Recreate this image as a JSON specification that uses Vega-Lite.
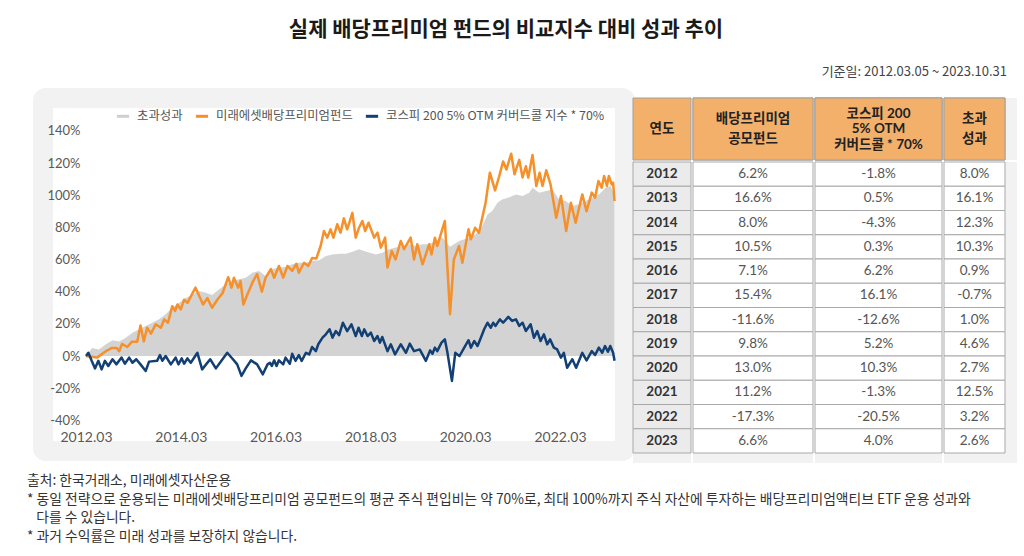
{
  "$schema": "https://vega.github.io/schema/vega-lite/v6.json",
  "background": "white",
  "padding": {"left": 27, "top": 19, "right": 0, "bottom": 0},
  "config": {
    "font": "Lato, Noto Sans CJK KR, sans-serif",
    "locale": {"number": {"decimal": ".", "thousands": ",", "grouping": [3], "currency": ["", ""], "minus": "-"}},
    "concat": {"spacing": 0},
    "view": {"stroke": null},
    "axis": {"labelFont": "Lato", "labelColor": "#595959", "domain": false, "ticks": false, "grid": false, "title": null}
  },
  "datasets": {
    "fund": [
      {"t":2012.17,"v":0},{"t":2012.40,"v":-1},{"t":2012.59,"v":3},{"t":2012.72,"v":5},{"t":2012.82,"v":5},{"t":2012.87,"v":3},{"t":2012.93,"v":7.5},{"t":2013.04,"v":5.6},{"t":2013.14,"v":8.9},{"t":2013.25,"v":8.9},{"t":2013.32,"v":19},{"t":2013.39,"v":9},{"t":2013.46,"v":17.6},{"t":2013.54,"v":13.9},{"t":2013.64,"v":19.7},{"t":2013.75,"v":17.6},{"t":2013.82,"v":22.8},{"t":2013.90,"v":20.7},{"t":2013.99,"v":31},{"t":2014.05,"v":28},{"t":2014.10,"v":32},{"t":2014.17,"v":29},{"t":2014.24,"v":35},{"t":2014.31,"v":33},{"t":2014.48,"v":42.5},{"t":2014.55,"v":38},{"t":2014.64,"v":32},{"t":2014.73,"v":36},{"t":2014.83,"v":30},{"t":2014.94,"v":35},{"t":2015.05,"v":39},{"t":2015.17,"v":49},{"t":2015.24,"v":42.5},{"t":2015.29,"v":48.7},{"t":2015.38,"v":42.5},{"t":2015.43,"v":46.6},{"t":2015.49,"v":32},{"t":2015.57,"v":38},{"t":2015.68,"v":45.6},{"t":2015.78,"v":51},{"t":2015.88,"v":40},{"t":2015.96,"v":48.7},{"t":2016.07,"v":54},{"t":2016.14,"v":48.7},{"t":2016.24,"v":56},{"t":2016.33,"v":48.7},{"t":2016.42,"v":56},{"t":2016.52,"v":53},{"t":2016.61,"v":57.4},{"t":2016.66,"v":51.8},{"t":2016.77,"v":58},{"t":2016.86,"v":56},{"t":2016.94,"v":61},{"t":2017.03,"v":60.7},{"t":2017.12,"v":68.4},{"t":2017.19,"v":77.7},{"t":2017.26,"v":73.6},{"t":2017.33,"v":78.8},{"t":2017.39,"v":73.6},{"t":2017.47,"v":81.9},{"t":2017.54,"v":76.7},{"t":2017.61,"v":85.6},{"t":2017.68,"v":78.8},{"t":2017.79,"v":89},{"t":2017.86,"v":73.6},{"t":2017.93,"v":79.8},{"t":2018.00,"v":84},{"t":2018.06,"v":77.7},{"t":2018.13,"v":82.9},{"t":2018.25,"v":73.6},{"t":2018.32,"v":76.7},{"t":2018.39,"v":67.4},{"t":2018.48,"v":73.6},{"t":2018.53,"v":55},{"t":2018.62,"v":65.3},{"t":2018.70,"v":60},{"t":2018.81,"v":71.5},{"t":2018.88,"v":66.4},{"t":2019.02,"v":73.6},{"t":2019.09,"v":60},{"t":2019.16,"v":69.5},{"t":2019.27,"v":57},{"t":2019.41,"v":69.5},{"t":2019.46,"v":63.2},{"t":2019.53,"v":73.6},{"t":2019.58,"v":68.4},{"t":2019.74,"v":84},{"t":2019.85,"v":26},{"t":2019.93,"v":60},{"t":2020.04,"v":68.4},{"t":2020.11,"v":58},{"t":2020.24,"v":78.8},{"t":2020.29,"v":72.6},{"t":2020.38,"v":79.8},{"t":2020.46,"v":76.7},{"t":2020.60,"v":95.3},{"t":2020.69,"v":114},{"t":2020.80,"v":103},{"t":2020.88,"v":111},{"t":2020.97,"v":121},{"t":2021.04,"v":116},{"t":2021.14,"v":125.8},{"t":2021.21,"v":113},{"t":2021.31,"v":122},{"t":2021.38,"v":111},{"t":2021.45,"v":118},{"t":2021.50,"v":111},{"t":2021.59,"v":125},{"t":2021.67,"v":105.7},{"t":2021.74,"v":114},{"t":2021.80,"v":105.7},{"t":2021.88,"v":115.5},{"t":2021.97,"v":106.7},{"t":2022.09,"v":86},{"t":2022.19,"v":99.5},{"t":2022.30,"v":77.7},{"t":2022.40,"v":95.3},{"t":2022.50,"v":82.9},{"t":2022.64,"v":100.5},{"t":2022.73,"v":90},{"t":2022.84,"v":101.6},{"t":2022.91,"v":98.5},{"t":2022.98,"v":108.8},{"t":2023.05,"v":104.7},{"t":2023.10,"v":112},{"t":2023.16,"v":105.7},{"t":2023.20,"v":112},{"t":2023.26,"v":106.7},{"t":2023.29,"v":107.8},{"t":2023.32,"v":96.4}
    ],
    "kospi": [
      {"t":2012.17,"v":0},{"t":2012.22,"v":2},{"t":2012.29,"v":-3},{"t":2012.36,"v":-7.7},{"t":2012.43,"v":-3},{"t":2012.50,"v":-8.3},{"t":2012.57,"v":-3},{"t":2012.64,"v":-6.2},{"t":2012.73,"v":-2},{"t":2012.81,"v":-5.2},{"t":2012.92,"v":-1},{"t":2012.99,"v":-4.8},{"t":2013.08,"v":-1},{"t":2013.15,"v":-4.2},{"t":2013.23,"v":-2},{"t":2013.32,"v":-5.2},{"t":2013.43,"v":-9.3},{"t":2013.50,"v":-3.5},{"t":2013.67,"v":-3},{"t":2013.73,"v":0.6},{"t":2013.78,"v":-3},{"t":2013.85,"v":0},{"t":2013.96,"v":-5.2},{"t":2014.06,"v":-1},{"t":2014.12,"v":-5.2},{"t":2014.19,"v":-1.5},{"t":2014.24,"v":-4.8},{"t":2014.31,"v":-1.5},{"t":2014.38,"v":-4.2},{"t":2014.52,"v":2},{"t":2014.62,"v":-8.3},{"t":2014.79,"v":-2},{"t":2014.91,"v":-7.7},{"t":2015.05,"v":-2},{"t":2015.15,"v":2},{"t":2015.27,"v":-2},{"t":2015.36,"v":-5.2},{"t":2015.45,"v":-12.4},{"t":2015.54,"v":-7.7},{"t":2015.65,"v":-2.7},{"t":2015.78,"v":-5.2},{"t":2015.90,"v":-11.4},{"t":2016.00,"v":-5.2},{"t":2016.05,"v":-4.2},{"t":2016.09,"v":-6.2},{"t":2016.14,"v":-2.7},{"t":2016.19,"v":-6.2},{"t":2016.24,"v":-2.7},{"t":2016.33,"v":-5.2},{"t":2016.38,"v":-1},{"t":2016.47,"v":-4.8},{"t":2016.52,"v":1.4},{"t":2016.59,"v":-3},{"t":2016.66,"v":0.6},{"t":2016.72,"v":-3},{"t":2016.81,"v":2},{"t":2016.88,"v":1},{"t":2016.94,"v":5.6},{"t":2017.02,"v":3},{"t":2017.07,"v":7.3},{"t":2017.16,"v":11.4},{"t":2017.23,"v":13.5},{"t":2017.31,"v":16.6},{"t":2017.37,"v":11.4},{"t":2017.44,"v":15.5},{"t":2017.51,"v":13},{"t":2017.59,"v":20.7},{"t":2017.68,"v":15.5},{"t":2017.77,"v":19.7},{"t":2017.86,"v":12.4},{"t":2017.92,"v":17.6},{"t":2017.99,"v":12.4},{"t":2018.04,"v":16.6},{"t":2018.11,"v":12.4},{"t":2018.18,"v":14.5},{"t":2018.25,"v":9.3},{"t":2018.32,"v":12.4},{"t":2018.37,"v":8.3},{"t":2018.42,"v":11.8},{"t":2018.53,"v":3},{"t":2018.60,"v":7.3},{"t":2018.69,"v":1},{"t":2018.81,"v":7.3},{"t":2018.92,"v":2},{"t":2019.00,"v":7.7},{"t":2019.09,"v":3},{"t":2019.21,"v":4.1},{"t":2019.34,"v":-3},{"t":2019.43,"v":3.5},{"t":2019.48,"v":1.4},{"t":2019.53,"v":5.2},{"t":2019.58,"v":3},{"t":2019.67,"v":8.3},{"t":2019.74,"v":10.4},{"t":2019.79,"v":3},{"t":2019.89,"v":-15.5},{"t":2019.96,"v":2},{"t":2020.00,"v":1},{"t":2020.05,"v":0},{"t":2020.15,"v":5.2},{"t":2020.24,"v":9.8},{"t":2020.29,"v":5.2},{"t":2020.36,"v":9.3},{"t":2020.43,"v":6.2},{"t":2020.50,"v":11.4},{"t":2020.57,"v":16.6},{"t":2020.64,"v":20.7},{"t":2020.71,"v":17.6},{"t":2020.76,"v":20.7},{"t":2020.81,"v":18.7},{"t":2020.90,"v":22.8},{"t":2020.97,"v":20.7},{"t":2021.08,"v":24.3},{"t":2021.16,"v":21.8},{"t":2021.24,"v":22.8},{"t":2021.31,"v":18.7},{"t":2021.38,"v":20.7},{"t":2021.45,"v":15.5},{"t":2021.55,"v":19.7},{"t":2021.62,"v":11.4},{"t":2021.69,"v":15.5},{"t":2021.76,"v":9.3},{"t":2021.83,"v":13.5},{"t":2021.90,"v":7.3},{"t":2021.96,"v":10.4},{"t":2022.04,"v":5.2},{"t":2022.11,"v":4.1},{"t":2022.19,"v":-1},{"t":2022.25,"v":2},{"t":2022.32,"v":-7.3},{"t":2022.43,"v":-2},{"t":2022.51,"v":-7.3},{"t":2022.64,"v":2},{"t":2022.73,"v":-2.7},{"t":2022.84,"v":3},{"t":2022.91,"v":0.6},{"t":2022.99,"v":5.2},{"t":2023.06,"v":2},{"t":2023.12,"v":6.2},{"t":2023.18,"v":2.6},{"t":2023.23,"v":6.2},{"t":2023.29,"v":2},{"t":2023.32,"v":-3}
    ],
    "excess": [
      {"t":2012.17,"v":0},{"t":2012.30,"v":5},{"t":2012.44,"v":4},{"t":2012.59,"v":7.3},{"t":2012.73,"v":9.8},{"t":2012.87,"v":9},{"t":2013.01,"v":11.4},{"t":2013.15,"v":14.5},{"t":2013.29,"v":16.6},{"t":2013.43,"v":18.7},{"t":2013.57,"v":20.7},{"t":2013.71,"v":22.8},{"t":2013.85,"v":25.9},{"t":2013.99,"v":30},{"t":2014.13,"v":33},{"t":2014.27,"v":36},{"t":2014.41,"v":38},{"t":2014.55,"v":40.4},{"t":2014.70,"v":39.4},{"t":2014.83,"v":38},{"t":2014.98,"v":41.5},{"t":2015.12,"v":44.6},{"t":2015.26,"v":46.6},{"t":2015.40,"v":47.7},{"t":2015.54,"v":48.7},{"t":2015.68,"v":51.8},{"t":2015.82,"v":52.9},{"t":2015.96,"v":49.7},{"t":2016.10,"v":54},{"t":2016.24,"v":55},{"t":2016.38,"v":55.3},{"t":2016.52,"v":57},{"t":2016.66,"v":58},{"t":2016.81,"v":58},{"t":2016.94,"v":59.1},{"t":2017.09,"v":59.5},{"t":2017.23,"v":62.2},{"t":2017.37,"v":63.2},{"t":2017.51,"v":63.6},{"t":2017.65,"v":63.6},{"t":2017.79,"v":64.9},{"t":2017.93,"v":66.4},{"t":2018.07,"v":65},{"t":2018.28,"v":63.2},{"t":2018.42,"v":64.2},{"t":2018.56,"v":66.4},{"t":2018.70,"v":67.4},{"t":2018.84,"v":68.4},{"t":2018.98,"v":69.5},{"t":2019.13,"v":68.4},{"t":2019.27,"v":69.5},{"t":2019.41,"v":69.5},{"t":2019.55,"v":71.5},{"t":2019.69,"v":73.6},{"t":2019.85,"v":68},{"t":2020.04,"v":71.5},{"t":2020.25,"v":73.6},{"t":2020.39,"v":75.7},{"t":2020.53,"v":80.8},{"t":2020.64,"v":88},{"t":2020.74,"v":90.2},{"t":2020.85,"v":95.3},{"t":2020.95,"v":97.4},{"t":2021.09,"v":98.5},{"t":2021.24,"v":100.5},{"t":2021.38,"v":99.5},{"t":2021.52,"v":101.6},{"t":2021.59,"v":104.7},{"t":2021.73,"v":101.6},{"t":2021.87,"v":102.6},{"t":2022.01,"v":103.6},{"t":2022.15,"v":97.4},{"t":2022.29,"v":96.4},{"t":2022.43,"v":93.3},{"t":2022.57,"v":94.3},{"t":2022.71,"v":96.4},{"t":2022.85,"v":98.5},{"t":2022.99,"v":100.5},{"t":2023.13,"v":104.7},{"t":2023.24,"v":105.7},{"t":2023.32,"v":99.5}
    ],
    "table": [
      {"year":"2012","fund":0.062,"kospi":-0.018,"excess":0.080},
      {"year":"2013","fund":0.166,"kospi":0.005,"excess":0.161},
      {"year":"2014","fund":0.080,"kospi":-0.043,"excess":0.123},
      {"year":"2015","fund":0.105,"kospi":0.003,"excess":0.103},
      {"year":"2016","fund":0.071,"kospi":0.062,"excess":0.009},
      {"year":"2017","fund":0.154,"kospi":0.161,"excess":-0.007},
      {"year":"2018","fund":-0.116,"kospi":-0.126,"excess":0.010},
      {"year":"2019","fund":0.098,"kospi":0.052,"excess":0.046},
      {"year":"2020","fund":0.130,"kospi":0.103,"excess":0.027},
      {"year":"2021","fund":0.112,"kospi":-0.013,"excess":0.125},
      {"year":"2022","fund":-0.173,"kospi":-0.205,"excess":0.032},
      {"year":"2023","fund":0.066,"kospi":0.040,"excess":0.026}
    ],
    "headers": [
      {"col":"year","line":1,"label":"연도"},
      {"col":"fund","line":1,"label":"배당프리미엄"},
      {"col":"fund","line":2,"label":"공모펀드"},
      {"col":"kospi","line":1,"label":"코스피 200"},
      {"col":"kospi","line":2,"label":"5% OTM"},
      {"col":"kospi","line":3,"label":"커버드콜 * 70%"},
      {"col":"excess","line":1,"label":"초과"},
      {"col":"excess","line":2,"label":"성과"}
    ]
  },
  "title": {
    "text": ["출처: 한국거래소, 미래에셋자산운용", "* 동일 전략으로 운용되는 미래에셋배당프리미엄 공모펀드의 평균 주식 편입비는 약 70%로, 최대 100%까지 주식 자산에 투자하는 배당프리미엄액티브 ETF 운용 성과와", "\u200b\u00a0\u00a0\u00a0다를 수 있습니다.", "* 과거 수익률은 미래 성과를 보장하지 않습니다."],
    "orient": "bottom", "anchor": "start", "font": "Noto Sans CJK KR", "fontSize": 13.8, "fontWeight": "normal", "color": "#333333", "lineHeight": 18.5, "offset": 11, "dx": -6
  },
  "vconcat": [
    {
      "title": {"text": "실제 배당프리미엄 펀드의 비교지수 대비 성과 추이", "anchor": "middle", "font": "Noto Sans CJK KR", "fontSize": 21, "fontWeight": "bold", "color": "#1a1a1a", "offset": 26, "dx": -19},
      "vconcat": [
        {
          "title": {"text": "기준일: 2012.03.05 ~ 2023.10.31", "anchor": "end", "font": "Noto Sans CJK KR", "fontSize": 13, "fontWeight": "normal", "color": "#444444", "offset": 9, "dx": -10},
          "spacing": 8,
          "bounds": "flush",
          "hconcat": [
            {
              "width": 582,
              "height": 353,
              "view": {"fill": "white", "stroke": "#f2f2f2", "strokeWidth": 20, "cornerRadius": 3},
              "encoding": {
                "x": {"field": "t", "type": "quantitative", "scale": {"domain": [2011.263, 2023.541], "nice": false, "zero": false},
                      "axis": {"values": [2012.17, 2014.17, 2016.17, 2018.17, 2020.17, 2022.17], "labelExpr": "floor(datum.value) + '.03'", "offset": -30, "labelPadding": 9, "labelFontSize": 14, "labelFlush": false, "labelOverlap": false}},
                "y": {"field": "v", "type": "quantitative", "scale": {"domain": [-59.08, 160.45], "nice": false, "zero": false},
                      "axis": {"values": [-40, -20, 0, 20, 40, 60, 80, 100, 120, 140], "labelExpr": "datum.value + '%'", "offset": -42, "labelPadding": 5, "labelFontSize": 13}}
              },
              "layer": [
                {"data": {"name": "excess"}, "mark": {"type": "area", "color": "#d3d3d3"}, "encoding": {"y2": {"datum": 0}}},
                {"data": {"name": "fund"}, "mark": {"type": "line", "strokeWidth": 2.5, "strokeJoin": "round"},
                 "encoding": {"color": {"datum": "미래에셋배당프리미엄펀드", "type": "nominal",
                   "scale": {"domain": ["초과성과", "미래에셋배당프리미엄펀드", "코스피 200 5% OTM 커버드콜 지수 * 70%"], "range": ["#cfcfcf", "#f5902a", "#123f74"]},
                   "legend": {"orient": "none", "legendX": 72, "legendY": 10, "direction": "horizontal", "title": null, "symbolType": "stroke", "symbolStrokeWidth": 3, "symbolSize": 150, "labelFont": "Noto Sans CJK KR", "labelFontSize": 12.4, "labelColor": "#555555", "labelOffset": 6, "columnPadding": 6, "labelLimit": 400}}}},
                {"data": {"name": "kospi"}, "mark": {"type": "line", "strokeWidth": 2.5, "strokeJoin": "round"},
                 "encoding": {"color": {"datum": "코스피 200 5% OTM 커버드콜 지수 * 70%", "type": "nominal"}}},
                {"data": {"values": [{}]}, "mark": {"type": "rule", "color": "#bdbdbd", "strokeWidth": 1},
                 "encoding": {"x": {"datum": 2012.15, "type": "quantitative"}, "y": {"datum": -40, "type": "quantitative"}, "y2": {"datum": 140}}},
                {"data": {"values": [{}]}, "mark": {"type": "rule", "color": "#bdbdbd", "strokeWidth": 1},
                 "encoding": {"y": {"datum": -40, "type": "quantitative"}, "x": {"datum": 2012.15, "type": "quantitative"}, "x2": {"datum": 2023.34}}}
              ]
            },
            {
              "spacing": 0,
              "vconcat": [
                {
                  "spacing": 0,
                  "hconcat": [
                    {"width": 58, "height": 62, "data": {"name": "headers"}, "transform": [{"filter": "datum.col === 'year'"}],
                     "layer": [{"mark": {"type": "rect", "fill": "#f3b06b", "stroke": "#a0a0a0", "strokeWidth": 1}},
                               {"mark": {"type": "text", "fontWeight": "bold", "fontSize": 13.5, "color": "#222222"},
                                "encoding": {"text": {"field": "label"}, "y": {"field": "line", "type": "ordinal", "axis": null, "scale": {"type": "point", "padding": 0.5}}}}]},
                    {"width": 120, "height": 62, "data": {"name": "headers"}, "transform": [{"filter": "datum.col === 'fund'"}],
                     "layer": [{"mark": {"type": "rect", "fill": "#f3b06b", "stroke": "#a0a0a0", "strokeWidth": 1}},
                               {"mark": {"type": "text", "fontWeight": "bold", "fontSize": 13.5, "color": "#222222"},
                                "encoding": {"text": {"field": "label"}, "y": {"field": "line", "type": "ordinal", "axis": null, "scale": {"type": "point", "padding": 1.714}}}}]},
                    {"width": 127, "height": 62, "data": {"name": "headers"}, "transform": [{"filter": "datum.col === 'kospi'"}],
                     "layer": [{"mark": {"type": "rect", "fill": "#f3b06b", "stroke": "#a0a0a0", "strokeWidth": 1}},
                               {"mark": {"type": "text", "fontWeight": "bold", "fontSize": 13.5, "color": "#222222"},
                                "encoding": {"text": {"field": "label"}, "y": {"field": "line", "type": "ordinal", "axis": null, "scale": {"type": "point", "padding": 1.214}}}}]},
                    {"width": 73, "height": 62, "data": {"name": "headers"}, "transform": [{"filter": "datum.col === 'excess'"}], "view": {"fill": "#f2f2f2"},
                     "encoding": {"x": {"field": "col", "type": "nominal", "axis": null, "scale": {"paddingInner": 0, "paddingOuter": 0.0985, "align": 0}}},
                     "layer": [{"mark": {"type": "rect", "fill": "#f3b06b", "stroke": "#a0a0a0", "strokeWidth": 1}},
                               {"mark": {"type": "text", "fontWeight": "bold", "fontSize": 13.5, "color": "#222222"},
                                "encoding": {"text": {"field": "label"}, "y": {"field": "line", "type": "ordinal", "axis": null, "scale": {"type": "point", "padding": 1.714}}}}]}
                  ]
                },
                {
                  "spacing": 0,
                  "hconcat": [
                    {"width": 58, "height": 301, "data": {"name": "table"}, "view": {"fill": "#f2f2f2"},
                     "encoding": {"y": {"field": "year", "type": "ordinal", "axis": null, "scale": {"paddingInner": 0, "paddingOuter": 0.206, "align": 0}}},
                     "layer": [{"mark": {"type": "rect", "fill": "#ebebeb", "stroke": "#a9a9a9", "strokeWidth": 1}},
                               {"mark": {"type": "text", "fontWeight": "bold", "fontSize": 13.5, "color": "#333333"}, "encoding": {"text": {"field": "year"}}}]},
                    {"width": 120, "height": 301, "data": {"name": "table"}, "view": {"fill": "#f2f2f2"},
                     "encoding": {"y": {"field": "year", "type": "ordinal", "axis": null, "scale": {"paddingInner": 0, "paddingOuter": 0.206, "align": 0}}},
                     "layer": [{"mark": {"type": "rect", "fill": "white", "stroke": "#a9a9a9", "strokeWidth": 1}},
                               {"mark": {"type": "text", "fontSize": 13.5, "color": "#555555"}, "encoding": {"text": {"field": "fund", "type": "quantitative", "format": ".1%"}}}]},
                    {"width": 127, "height": 301, "data": {"name": "table"}, "view": {"fill": "#f2f2f2"},
                     "encoding": {"y": {"field": "year", "type": "ordinal", "axis": null, "scale": {"paddingInner": 0, "paddingOuter": 0.206, "align": 0}}},
                     "layer": [{"mark": {"type": "rect", "fill": "white", "stroke": "#a9a9a9", "strokeWidth": 1}},
                               {"mark": {"type": "text", "fontSize": 13.5, "color": "#555555"}, "encoding": {"text": {"field": "kospi", "type": "quantitative", "format": ".1%"}}}]},
                    {"width": 73, "height": 301, "data": {"name": "table"}, "view": {"fill": "#f2f2f2"},
                     "encoding": {"y": {"field": "year", "type": "ordinal", "axis": null, "scale": {"paddingInner": 0, "paddingOuter": 0.206, "align": 0}},
                                  "x": {"datum": "초과성과", "type": "nominal", "axis": null, "scale": {"paddingInner": 0, "paddingOuter": 0.0985, "align": 0}}},
                     "layer": [{"mark": {"type": "rect", "fill": "white", "stroke": "#a9a9a9", "strokeWidth": 1}},
                               {"mark": {"type": "text", "fontSize": 13.5, "color": "#555555"}, "encoding": {"text": {"field": "excess", "type": "quantitative", "format": ".1%"}}}]}
                  ]
                }
              ]
            }
          ]
        }
      ]
    }
  ]
}
